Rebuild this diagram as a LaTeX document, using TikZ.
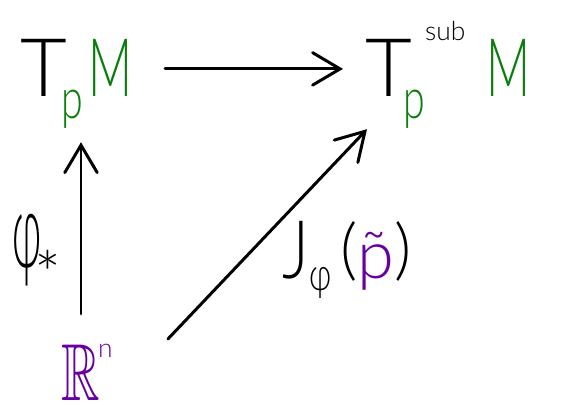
\documentclass[tikz,border=0pt]{standalone}
\usepackage{amssymb}
\usepackage{fontspec}
\setmainfont{Lato Light}
\usetikzlibrary{arrows.meta}
\definecolor{cGreen}{HTML}{0B7D0B}
\definecolor{cPurple}{HTML}{6600A0}
\newcommand{\bigsz}{\fontsize{46}{50}\selectfont}
\newcommand{\lowp}{\raisebox{-12.5pt}{\fontsize{32}{34}\selectfont\color{cGreen}\scalebox{0.7}[1]{p}}}
\newcommand{\thinM}{{\color{cGreen}\scalebox{0.6}[1]{M}}}
\tikzset{
  lbl/.style={inner sep=0pt,anchor=base west,font=\bigsz},
  arr/.style={-{Straight Barb[length=5.5mm,width=6.5mm,line cap=round]},line width=1.7pt,line cap=round},
}

\begin{document}
\begin{tikzpicture}[x=0.02cm,y=-0.02cm]
  \useasboundingbox (0,0) rectangle (574,405);
  % spaces
  \node[lbl] (tpm) at (20,97) {T\hspace{-3pt}\lowp\hspace{3pt}\thinM};
  \node[lbl] (tsub) at (365,97) {T\hspace{-5pt}\lowp\raisebox{32pt}{\fontsize{15}{18}\selectfont sub}\hspace{12pt}\thinM};
  \node[lbl,text=cPurple] (rn) at (61,400) {\scalebox{0.66}[1]{$\mathbb{R}$}\hspace{-1pt}\raisebox{24pt}{\fontsize{15}{18}\selectfont n}};
  % maps
  \node[lbl] (phi) at (12,267) {\fontsize{60}{62}\selectfont\scalebox{0.4}[1]{φ}\hspace{-4pt}\raisebox{-17.5pt}{\fontsize{36}{38}\selectfont *}};
  \node[lbl] (jac) at (282,278) {\scalebox{0.8}[1]{J}\raisebox{-7pt}{\fontsize{26}{30}\selectfont \scalebox{0.7}[1]{φ}}\hspace{5pt}\fontsize{38}{40}\selectfont\raisebox{3pt}{(}\textcolor{cPurple}{\~{p}}\raisebox{3pt}{)}};
  % arrows
  \draw[arr,shorten <=0.64cm,shorten >=0.44cm] ([yshift=16pt]tpm.base east) -- ([yshift=16pt]tsub.base west);
  \draw[arr,shorten <=0.6cm,shorten >=0.26cm] ([xshift=0.4cm]rn.north west) -- ([xshift=0.4cm]rn.north west |- tpm.south);
  \draw[arr] ([xshift=1.1cm,yshift=0.1cm]rn.north east) -- ([xshift=0.04cm]tsub.south west);
\end{tikzpicture}
\end{document}
